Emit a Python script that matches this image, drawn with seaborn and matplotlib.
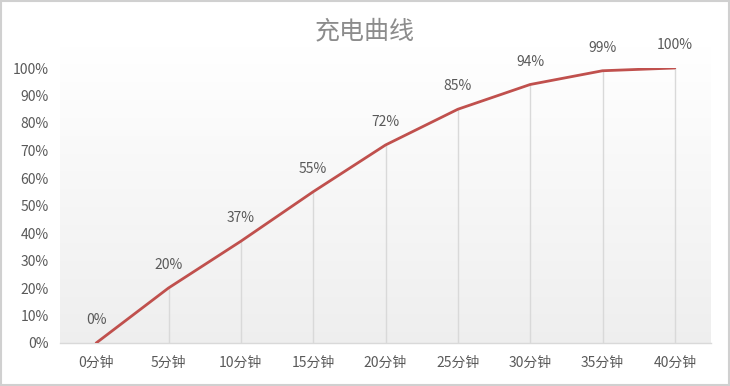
import numpy as np
import pandas as pd
import matplotlib
matplotlib.use("Agg")
import matplotlib.pyplot as plt
import seaborn as sns

categories = ["0分钟", "5分钟", "10分钟", "15分钟", "20分钟", "25分钟", "30分钟", "35分钟", "40分钟"]
values = [0, 20, 37, 55, 72, 85, 94, 99, 100]
value_labels = ["0%", "20%", "37%", "55%", "72%", "85%", "94%", "99%", "100%"]
ytick_vals = [0, 10, 20, 30, 40, 50, 60, 70, 80, 90, 100]
ytick_labels = [f"{v}%" for v in ytick_vals]
title = "充电曲线"

sns.set_style("white")
plt.rcParams['font.family'] = ['Noto Sans CJK SC', 'DejaVu Sans']

W, H = 730, 386
fig = plt.figure(figsize=(W / 100, H / 100), dpi=100)
ax = fig.add_axes([60 / W, 1 - 343 / H, (711 - 60) / W, (343 - 68) / H])

df = pd.DataFrame({"t": np.arange(len(categories)), "v": values})

# gradient background of plot area
grad = np.linspace(1.0, 0.935, 256).reshape(-1, 1)
ax.imshow(np.dstack([grad, grad, grad]), extent=[-0.5, len(categories) - 0.5, 0, 108],
          aspect="auto", zorder=0, origin="upper", clip_on=False)

# drop lines
ax.vlines(df["t"], 0, df["v"], color="#d9d9d9", lw=1, zorder=1)

sns.lineplot(data=df, x="t", y="v", color="#c0504d", lw=2.0, ax=ax, zorder=3, sort=False)

for xi, yi, lab in zip(df["t"], df["v"], value_labels):
    ax.annotate(lab, (xi, yi), xytext=(0, 23), textcoords="offset pixels",
                ha="center", va="center", fontsize=10, color="#595959", annotation_clip=False)

ax.set_xlim(-0.5, len(categories) - 0.5)
ax.set_ylim(0, 100)
ax.set_xticks(df["t"])
ax.set_xticklabels(categories)
ax.set_yticks(ytick_vals)
ax.set_yticklabels(ytick_labels)
ax.tick_params(axis="both", length=0, labelsize=10, labelcolor="#595959")
ax.tick_params(axis="x", pad=9)
ax.tick_params(axis="y", pad=8)
ax.set_xlabel("")
ax.set_ylabel("")
for s in ["top", "right", "left"]:
    ax.spines[s].set_visible(False)
ax.spines["bottom"].set_color("#d9d9d9")
ax.spines["bottom"].set_linewidth(1)

fig.text(0.5, 1 - 31 / H, title, ha="center", va="center", fontsize=18, color="#8c8c8c")

# figure border
fig.patches.append(plt.Rectangle((0.001, 0.002), 0.997, 0.996, transform=fig.transFigure,
                                 fill=False, edgecolor="#d0d0d0", lw=1.5))

fig.savefig("out.png", dpi=100)
